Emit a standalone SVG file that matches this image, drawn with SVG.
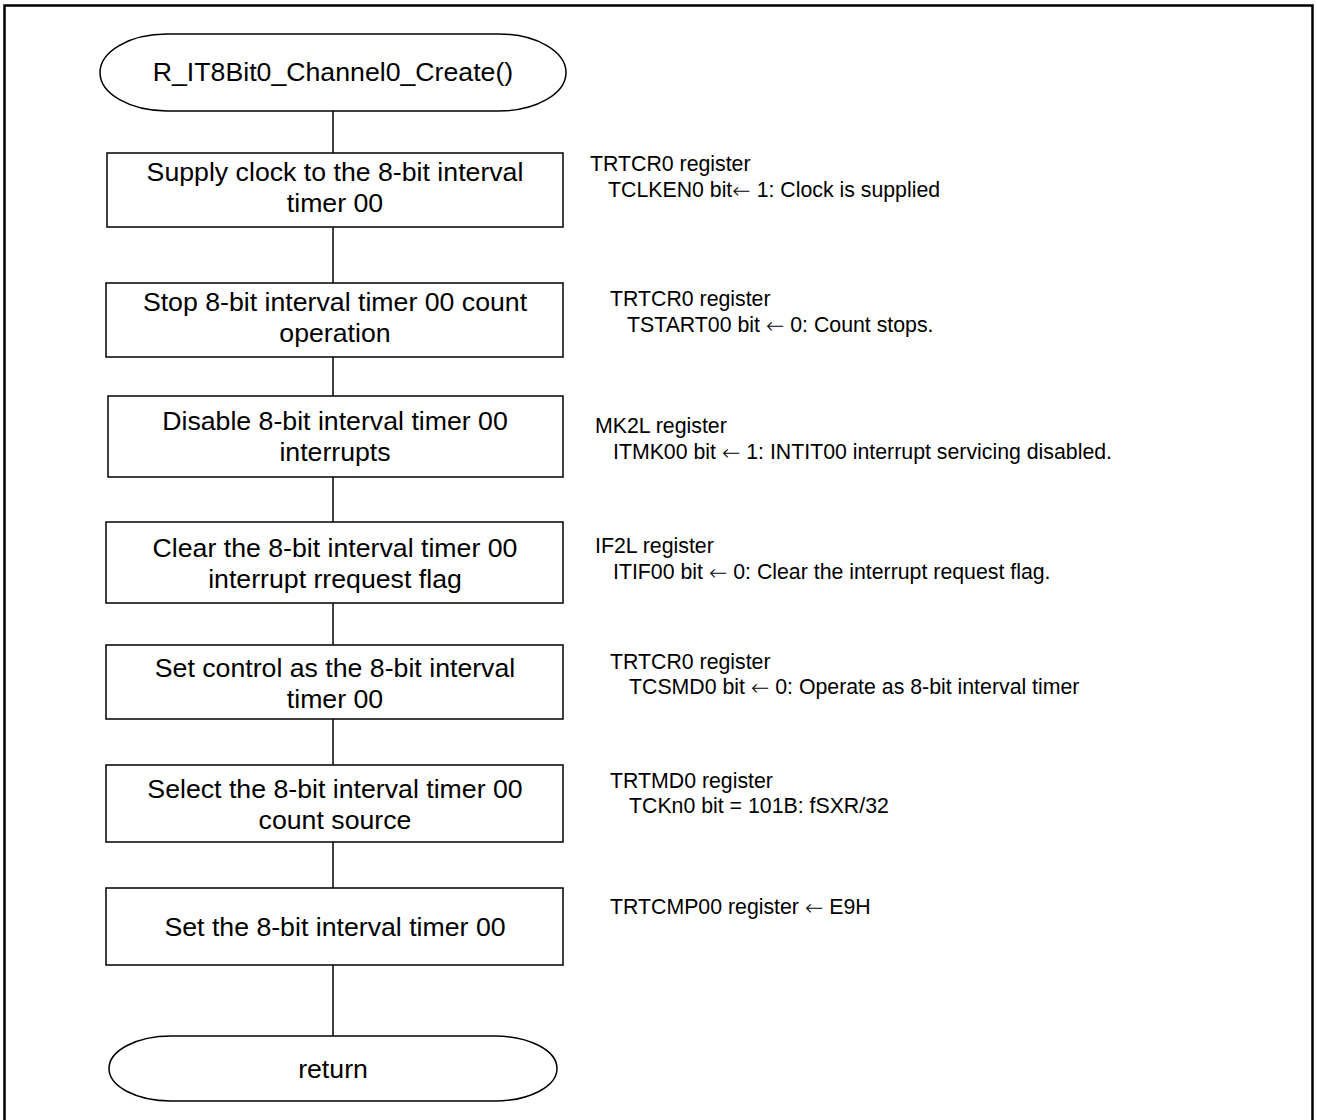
<svg xmlns="http://www.w3.org/2000/svg" width="1317" height="1120" viewBox="0 0 1317 1120">
  <style>
    .frame { fill: none; stroke: #000; stroke-width: 2.5; }
    .shape { fill: #fff; stroke: #000; stroke-width: 1.5; }
    .link { stroke: #000; stroke-width: 1.5; fill: none; }
    .label { font-family: "Liberation Sans", Arial, sans-serif; font-size: 26.7px; fill: #000; text-anchor: middle; dominant-baseline: central; }
    .note { font-family: "Liberation Sans", Arial, sans-serif; font-size: 21.3px; fill: #000; dominant-baseline: central; }
    .arw { font-family: "DejaVu Sans", sans-serif; font-size: 22px; font-weight: 200; }
  </style>
  <rect width="1317" height="1120" fill="#fff"/>
  <!-- outer frame, open at the bottom edge -->
  <path class="frame" d="M 4.5 1125 V 5.5 H 1312.5 V 1125"/>

  <g id="connectors">
    <line class="link" x1="333" y1="111" x2="333" y2="153"/>
    <line class="link" x1="333" y1="227" x2="333" y2="283"/>
    <line class="link" x1="333" y1="357" x2="333" y2="396"/>
    <line class="link" x1="333" y1="477" x2="333" y2="522"/>
    <line class="link" x1="333" y1="603" x2="333" y2="645"/>
    <line class="link" x1="333" y1="719" x2="333" y2="765"/>
    <line class="link" x1="333" y1="842" x2="333" y2="888"/>
    <line class="link" x1="333" y1="965" x2="333" y2="1036"/>
  </g>

  <g id="start">
    <rect class="shape" x="100" y="34" width="466" height="77" rx="67" ry="38.5"/>
    <text class="label" x="333" y="72">R_IT8Bit0_Channel0_Create()</text>
  </g>

  <g id="step1">
    <rect class="shape" x="107" y="153" width="456" height="74"/>
    <text class="label" x="335" y="172">Supply clock to the 8-bit interval</text>
    <text class="label" x="335" y="203">timer 00</text>
  </g>
  <g id="note1">
    <text class="note" x="590" y="164">TRTCR0 register</text>
    <text class="note" x="608" y="190">TCLKEN0 bit<tspan class="arw">←</tspan> 1: Clock is supplied</text>
  </g>

  <g id="step2">
    <rect class="shape" x="106" y="283" width="457" height="74"/>
    <text class="label" x="335" y="302">Stop 8-bit interval timer 00 count</text>
    <text class="label" x="335" y="333">operation</text>
  </g>
  <g id="note2">
    <text class="note" x="610" y="299">TRTCR0 register</text>
    <text class="note" x="627" y="325">TSTART00 bit <tspan class="arw">←</tspan> 0: Count stops.</text>
  </g>

  <g id="step3">
    <rect class="shape" x="108" y="396" width="455" height="81"/>
    <text class="label" x="335" y="421">Disable 8-bit interval timer 00</text>
    <text class="label" x="335" y="452">interrupts</text>
  </g>
  <g id="note3">
    <text class="note" x="595" y="426">MK2L register</text>
    <text class="note" x="613" y="452">ITMK00 bit <tspan class="arw">←</tspan> 1: INTIT00 interrupt servicing disabled.</text>
  </g>

  <g id="step4">
    <rect class="shape" x="106" y="522" width="457" height="81"/>
    <text class="label" x="335" y="548">Clear the 8-bit interval timer 00</text>
    <text class="label" x="335" y="579">interrupt rrequest flag</text>
  </g>
  <g id="note4">
    <text class="note" x="595" y="546">IF2L register</text>
    <text class="note" x="613" y="572">ITIF00 bit <tspan class="arw">←</tspan> 0: Clear the interrupt request flag.</text>
  </g>

  <g id="step5">
    <rect class="shape" x="106" y="645" width="457" height="74"/>
    <text class="label" x="335" y="668">Set control as the 8-bit interval</text>
    <text class="label" x="335" y="699">timer 00</text>
  </g>
  <g id="note5">
    <text class="note" x="610" y="662">TRTCR0 register</text>
    <text class="note" x="629" y="687">TCSMD0 bit <tspan class="arw">←</tspan> 0: Operate as 8-bit interval timer</text>
  </g>

  <g id="step6">
    <rect class="shape" x="106" y="765" width="457" height="77"/>
    <text class="label" x="335" y="789">Select the 8-bit interval timer 00</text>
    <text class="label" x="335" y="820">count source</text>
  </g>
  <g id="note6">
    <text class="note" x="610" y="781">TRTMD0 register</text>
    <text class="note" x="629" y="806">TCKn0 bit = 101B: fSXR/32</text>
  </g>

  <g id="step7">
    <rect class="shape" x="106" y="888" width="457" height="77"/>
    <text class="label" x="335" y="927">Set the 8-bit interval timer 00</text>
  </g>
  <g id="note7">
    <text class="note" x="610" y="907">TRTCMP00 register <tspan class="arw">←</tspan> E9H</text>
  </g>

  <g id="end">
    <rect class="shape" x="109" y="1036" width="448" height="65" rx="62" ry="32.5"/>
    <text class="label" x="333" y="1069">return</text>
  </g>
</svg>
